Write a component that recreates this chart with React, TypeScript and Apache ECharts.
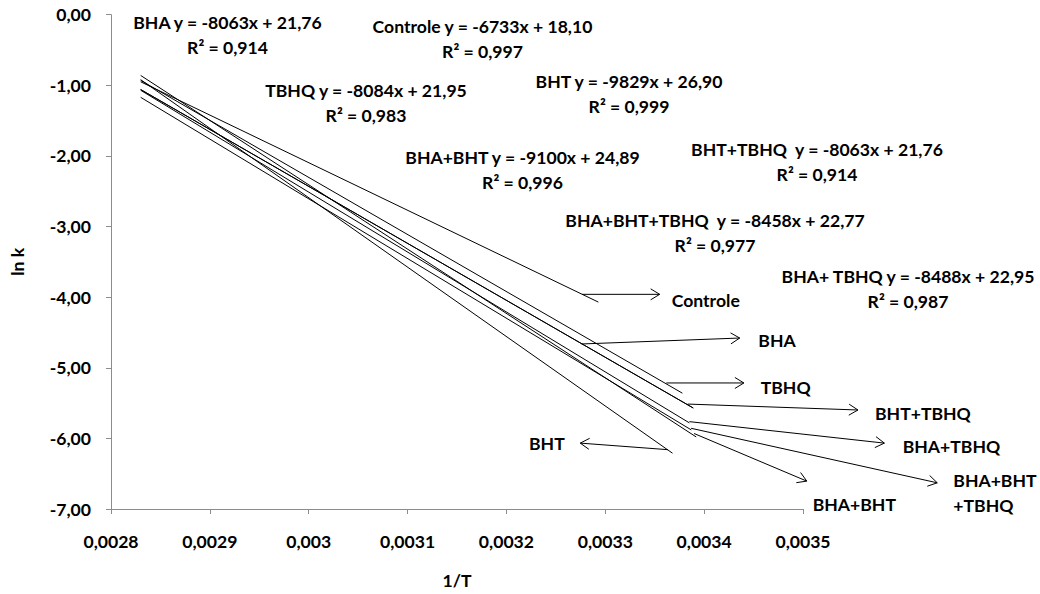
import React, { useEffect, useRef } from "react";
import * as echarts from "echarts";

// Regression lines (ln k vs 1/T), endpoints
const names = ["Controle", "BHA", "TBHQ", "BHT", "BHA+BHT", "BHT+TBHQ", "BHA+BHT+TBHQ", "BHA+TBHQ"];
const startX = [0.00283, 0.00283, 0.00283, 0.00283, 0.00283, 0.00283, 0.00283, 0.00283];
const startY = [-0.95, -1.06, -0.93, -0.92, -0.86, -1.06, -1.17, -1.07];
const endX = [0.003293, 0.003389, 0.003378, 0.003368, 0.003392, 0.003389, 0.003387, 0.003385];
const endY = [-4.07, -5.57, -5.36, -6.21, -5.98, -5.57, -5.88, -5.78];

// Trendline equation labels
const equations = [
  "Controle y = -6733x + 18,10",
  "BHA y = -8063x + 21,76",
  "TBHQ y = -8084x + 21,95",
  "BHT y = -9829x + 26,90",
  "BHA+BHT y = -9100x + 24,89",
  "BHT+TBHQ  y = -8063x + 21,76",
  "BHA+BHT+TBHQ  y = -8458x + 22,77",
  "BHA+ TBHQ y = -8488x + 22,95",
];
const rSquared = ["R² = 0,997", "R² = 0,914", "R² = 0,983", "R² = 0,999", "R² = 0,996", "R² = 0,914", "R² = 0,977", "R² = 0,987"];

// Arrow callouts (data coordinates: from -> to)
const arrowLabels = ["Controle", "BHA", "TBHQ", "BHT+TBHQ", "BHA+TBHQ", "BHA+BHT\n+TBHQ", "BHA+BHT", "BHT"];
const arrowFromX = [0.0032764, 0.003276, 0.0033617, 0.0033834, 0.0033851, 0.0033868, 0.0033898, 0.0033634];
const arrowFromY = [-3.96, -4.663, -5.215, -5.514, -5.763, -5.857, -5.931, -6.16];
const arrowToX = [0.003355, 0.003436, 0.0034402, 0.0035556, 0.0035823, 0.0036358, 0.0035038, 0.0032747];
const arrowToY = [-3.96, -4.579, -5.215, -5.598, -6.067, -6.629, -6.605, -6.067];

const xMin = 0.0028;
const xMax = 0.0035;
const xStep = 0.0001;
const yMin = -7;
const yMax = 0;
const yStep = 1;

const FONT = "Lato, 'Open Sans', sans-serif";
const FS = 17.6;

// label layout (pixels)
const eqPos: [number, number][] = [
  [482.5, 38.5],
  [227.5, 35.1],
  [366, 102.5],
  [629, 93.8],
  [522.5, 169.7],
  [817, 162.2],
  [715, 232.5],
  [908, 289.2],
];
const arrowLabelPos: [number, number][] = [
  [671.7, 300],
  [758.3, 340],
  [760.7, 387.3],
  [875, 413.3],
  [902.7, 446.7],
  [953.3, 492.5],
  [812.7, 504],
  [529, 443.3],
];

export default function App() {
  const ref = useRef<HTMLDivElement>(null);
  useEffect(() => {
    if (!ref.current) return;
    const chart = echarts.init(ref.current, undefined, { renderer: "svg" });

    const lineSeries = names.map((n, i) => ({
      name: n,
      type: "line",
      data: [
        [startX[i], startY[i]],
        [endX[i], endY[i]],
      ],
      showSymbol: false,
      symbol: "none",
      lineStyle: { color: "#000", width: 1 },
      z: 3,
    }));

    const arrowData = arrowLabels.map((_, i) => [arrowFromX[i], arrowFromY[i], arrowToX[i], arrowToY[i]]);

    const arrowSeries = {
      type: "custom",
      name: "arrows",
      clip: false,
      encode: { x: [0, 2], y: [1, 3] },
      data: arrowData,
      z: 4,
      renderItem: (params: any, api: any) => {
        const p1 = api.coord([api.value(0), api.value(1)]);
        const p2 = api.coord([api.value(2), api.value(3)]);
        const dx = p2[0] - p1[0];
        const dy = p2[1] - p1[1];
        const len = Math.sqrt(dx * dx + dy * dy) || 1;
        const ux = dx / len;
        const uy = dy / len;
        const nx = -uy;
        const ny = ux;
        const hl = 9;
        const hw = 5.5;
        const a = [p2[0] - hl * ux + hw * nx, p2[1] - hl * uy + hw * ny];
        const b = [p2[0] - hl * ux - hw * nx, p2[1] - hl * uy - hw * ny];
        return {
          type: "group",
          children: [
            {
              type: "line",
              shape: { x1: p1[0], y1: p1[1], x2: p2[0], y2: p2[1] },
              style: { stroke: "#000", lineWidth: 1 },
            },
            {
              type: "polyline",
              shape: { points: [a, p2, b] },
              style: { stroke: "#000", fill: "none", lineWidth: 1 },
            },
          ],
        };
      },
    };

    const textStyleBase = { fill: "#000", fontFamily: FONT, fontWeight: "bold", fontSize: FS };

    const eqGraphics = equations.map((e, i) => ({
      type: "text",
      x: eqPos[i][0],
      y: eqPos[i][1],
      style: {
        ...textStyleBase,
        text: e + "\n" + rSquared[i],
        align: "center",
        verticalAlign: "middle",
        lineHeight: 25,
      },
      z: 10,
    }));

    const arrowTextGraphics = arrowLabels.map((t, i) => ({
      type: "text",
      x: arrowLabelPos[i][0],
      y: arrowLabelPos[i][1],
      style: {
        ...textStyleBase,
        text: t,
        align: "left",
        verticalAlign: "middle",
        lineHeight: 25,
      },
      z: 10,
    }));

    const axisLineStyle = { color: "#8c8c8c", width: 1 };

    chart.setOption({
      animation: false,
      grid: { left: 105, right: 237, top: 14.7, bottom: 81, containLabel: false },
      xAxis: {
        type: "value",
        min: xMin,
        max: xMax,
        interval: xStep,
        name: "1/T",
        nameLocation: "middle",
        nameGap: 62,
        nameTextStyle: { color: "#000", fontFamily: FONT, fontWeight: "bold", fontSize: FS },
        axisLine: { show: true, lineStyle: axisLineStyle, onZero: false },
        axisTick: { show: true, length: 5, lineStyle: axisLineStyle },
        splitLine: { show: false },
        axisLabel: {
          color: "#000",
          fontFamily: FONT,
          fontWeight: "bold",
          fontSize: FS,
          margin: 23,
          formatter: (v: number) => parseFloat(v.toFixed(4)).toString().replace(".", ","),
        },
      },
      yAxis: {
        type: "value",
        min: yMin,
        max: yMax,
        interval: yStep,
        name: "ln k",
        nameLocation: "middle",
        nameGap: 85,
        nameRotate: 90,
        nameTextStyle: { color: "#000", fontFamily: FONT, fontWeight: "bold", fontSize: FS },
        axisLine: { show: true, lineStyle: axisLineStyle, onZero: false },
        axisTick: { show: true, length: 5, lineStyle: axisLineStyle },
        splitLine: { show: false },
        axisLabel: {
          color: "#000",
          fontFamily: FONT,
          fontWeight: "bold",
          fontSize: FS,
          margin: 20,
          formatter: (v: number) => v.toFixed(2).replace(".", ","),
        },
      },
      series: [...lineSeries, arrowSeries],
      graphic: [...eqGraphics, ...arrowTextGraphics],
    });

    return () => chart.dispose();
  }, []);

  return (
    <div
      ref={ref}
      style={{ position: "fixed", left: 0, top: 0, width: 1040, height: 594, background: "#fff" }}
    />
  );
}
